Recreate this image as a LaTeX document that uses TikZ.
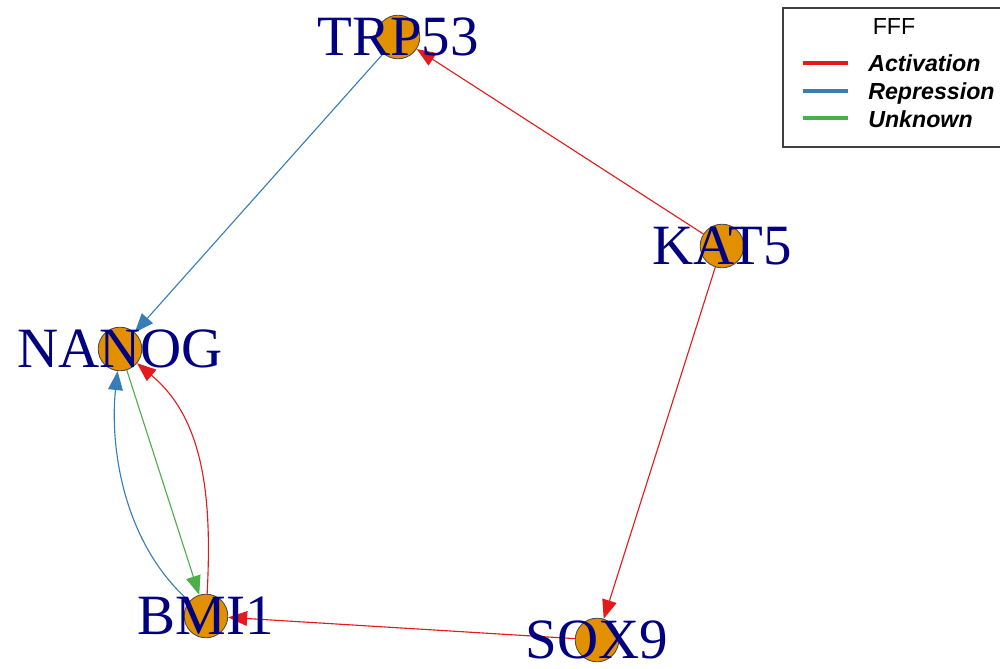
\documentclass[tikz,border=0pt]{standalone}
\usepackage{fontspec}
\setmainfont{Liberation Serif}
\setsansfont{Liberation Sans}
\usetikzlibrary{arrows.meta}
\definecolor{GRact}{RGB}{228,26,28}
\definecolor{GRrep}{RGB}{55,126,184}
\definecolor{GRunk}{RGB}{77,175,74}
\definecolor{GRvert}{RGB}{226,143,0}
\definecolor{GRnavy}{RGB}{0,0,128}

\begin{document}
\begin{tikzpicture}[
      x=0.025cm,y=-0.025cm,
      vert/.style={circle,draw=black!70,line width=0.6pt,fill=GRvert,minimum size=31pt,inner sep=0pt},
      vlab/.style={text=GRnavy,font=\fontsize{40.5}{44}\selectfont,inner sep=0pt,text height=26.8pt,text depth=0pt},
      arr/.style={line width=0.8pt,-{Triangle[length=13.5pt,width=10.5pt]}},
      leg/.style={font=\sffamily\bfseries\itshape\fontsize{16.5}{18}\selectfont,anchor=base west,inner sep=0pt}
    ]
    \useasboundingbox (0,0) rectangle (1000,669);
    % vertices
    \node[vert] (TRP53) at (398,37) {};
    \node[vert] (KAT5) at (722,246) {};
    \node[vert] (NANOG) at (120,349) {};
    \node[vert] (BMI1) at (206,616) {};
    \node[vert] (SOX9) at (597,640) {};
    % edges
    \draw[arr,GRrep] (TRP53) -- (NANOG);
    \draw[arr,GRact] (KAT5) -- (TRP53);
    \draw[arr,GRact] (KAT5) -- (SOX9);
    \draw[arr,GRact] (SOX9) -- (BMI1);
    \draw[arr,GRunk] (NANOG) -- (BMI1);
    \draw[arr,GRrep] (BMI1) .. controls (120,540) and (110,440) .. (NANOG);
    \draw[arr,GRact] (BMI1) .. controls (212,500) and (205,420) .. (NANOG);
    % labels
    \node[vlab] (TRP53lab) at (TRP53) {TRP53};
    \node[vlab] (KAT5lab) at (KAT5) {KAT5};
    \node[vlab] (NANOGlab) at (NANOG) {NANOG};
    \node[vlab] (BMI1lab) at (BMI1) {BMI1};
    \node[vlab] (SOX9lab) at (SOX9) {SOX9};
    % legend
    \draw[black!75,line width=0.8pt] (1002,8) -- (783,8) -- (783,147) -- (1002,147);
    \node[font=\sffamily\fontsize{16.5}{18}\selectfont,anchor=base,inner sep=0pt] (legtitle) at (894,35) {FFF};
    \draw[GRact,line width=2.2pt] (803,63) -- (848,63);
    \draw[GRrep,line width=2.2pt] (803,91) -- (848,91);
    \draw[GRunk,line width=2.2pt] (803,118) -- (848,118);
    \node[leg] (legact) at (868,72) {Activation};
    \node[leg] (legrep) at (868,100) {Repression};
    \node[leg] (legunk) at (868,128) {Unknown};
  \end{tikzpicture}
\end{document}
